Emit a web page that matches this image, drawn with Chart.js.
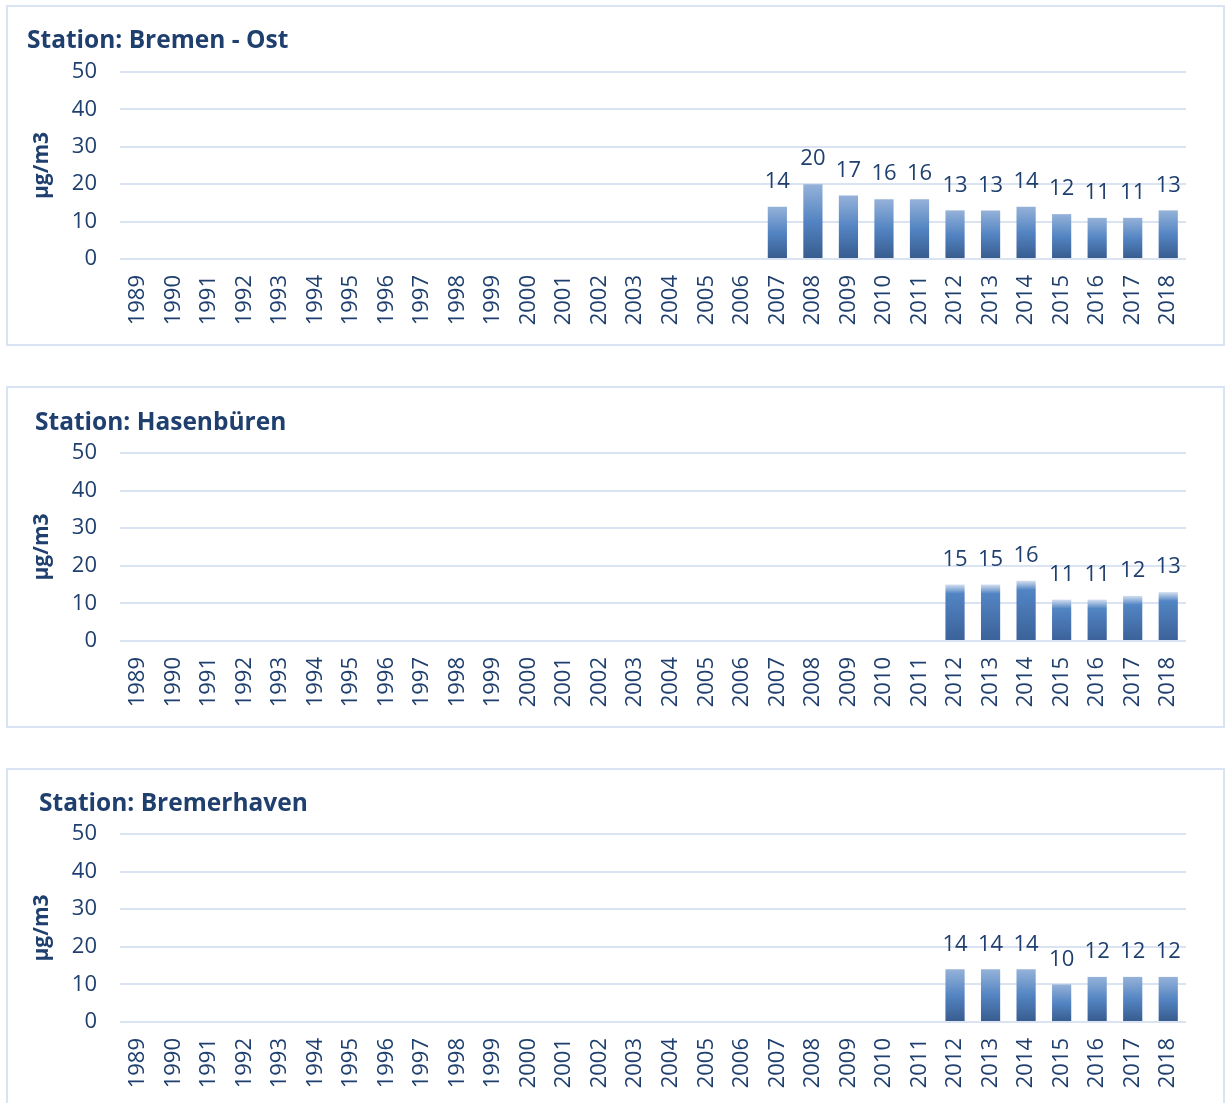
<!DOCTYPE html>
<html>
<head>
<meta charset="utf-8">
<script src="https://cdn.jsdelivr.net/npm/chart.js@4/dist/chart.umd.min.js"></script>
<style>
  html, body { margin: 0; padding: 0; background: #ffffff; }
  body { width: 1225px; height: 1103px; position: relative; overflow: hidden; }
  .panel { position: absolute; box-sizing: border-box; border: 2px solid #DAE3F3; background: #fff; }
  canvas { position: absolute; left: 0; }
</style>
</head>
<body>
<div class="panel" style="left:6px;top:5px;width:1219px;height:341px;"></div>
<div class="panel" style="left:6px;top:386px;width:1219px;height:342px;"></div>
<div class="panel" style="left:6px;top:768px;width:1219px;height:345px;"></div>
<canvas id="c1" width="1225" height="345" style="top:0px"></canvas>
<canvas id="c2" width="1225" height="341" style="top:387px"></canvas>
<canvas id="c3" width="1225" height="334" style="top:769px"></canvas>
<script>
// ---- data ----
const years = ["1989","1990","1991","1992","1993","1994","1995","1996","1997","1998","1999","2000","2001","2002","2003","2004","2005","2006","2007","2008","2009","2010","2011","2012","2013","2014","2015","2016","2017","2018"];
const bremenOst   = [null,null,null,null,null,null,null,null,null,null,null,null,null,null,null,null,null,null,14,20,17,16,16,13,13,14,12,11,11,13];
const hasenbueren = [null,null,null,null,null,null,null,null,null,null,null,null,null,null,null,null,null,null,null,null,null,null,null,15,15,16,11,11,12,13];
const bremerhaven = [null,null,null,null,null,null,null,null,null,null,null,null,null,null,null,null,null,null,null,null,null,null,null,14,14,14,10,12,12,12];
const yTicks = [0,10,20,30,40,50];
const titles = ["Station: Bremen - Ost", "Station: Hasenbüren", "Station: Bremerhaven"];
const unitLabel = "µg/m3";

// ---- styling ----
const TXT = "#1F3F6E";
const GRID = "#D9E3F2";
Chart.defaults.font.family = "'Open Sans', sans-serif";
Chart.defaults.color = TXT;

const valueLabels = {
  id: 'valueLabels',
  afterDatasetsDraw(chart) {
    const ctx = chart.ctx;
    ctx.save();
    ctx.font = "22px 'Open Sans', sans-serif";
    ctx.fillStyle = TXT;
    ctx.textAlign = 'center';
    ctx.textBaseline = 'middle';
    chart.data.datasets.forEach((ds, di) => {
      const meta = chart.getDatasetMeta(di);
      meta.data.forEach((el, i) => {
        const v = ds.data[i];
        if (v === null || v === undefined) return;
        ctx.fillText(String(v), el.x, el.y - 25);
      });
    });
    ctx.restore();
  }
};

function makeGradient(style) {
  return function (c) {
    const chart = c.chart;
    if (!chart.chartArea || c.raw === null || c.raw === undefined) return '#4F81BD';
    const ys = chart.scales.y;
    const top = ys.getPixelForValue(c.raw);
    const bot = ys.getPixelForValue(0);
    const g = chart.ctx.createLinearGradient(0, top, 0, bot);
    if (style === 'band') {
      const h = Math.max(1, bot - top);
      g.addColorStop(0, '#D3DEEF');
      g.addColorStop(Math.min(1, 9 / h), '#5285C4');
      g.addColorStop(1, '#3B6198');
    } else {
      g.addColorStop(0, '#95B2D9');
      g.addColorStop(0.5, '#5384C2');
      g.addColorStop(1, '#375B8D');
    }
    return g;
  };
}

function makeChart(id, values, title, p) {
  new Chart(document.getElementById(id), {
    type: 'bar',
    data: {
      labels: years,
      datasets: [{
        data: values,
        backgroundColor: makeGradient(p.style),
        borderWidth: 0,
        barPercentage: 0.54,
        categoryPercentage: 1.0
      }]
    },
    options: {
      responsive: false,
      animation: false,
      events: [],
      layout: { padding: { left: p.titleX, right: 39, top: 0, bottom: 0 } },
      plugins: {
        legend: { display: false },
        tooltip: { enabled: false },
        title: {
          display: true,
          text: title,
          align: 'start',
          color: TXT,
          font: { size: 24.5, weight: 'bold', lineHeight: 1.2 },
          padding: { top: p.titleY - 14.7, bottom: p.areaTop - (p.titleY - 14.7) - 29.4 }
        }
      },
      scales: {
        x: {
          grid: { display: false, drawTicks: false },
          border: { display: false },
          ticks: {
            autoSkip: false,
            minRotation: 90,
            maxRotation: 90,
            padding: 16,
            color: TXT,
            font: { size: 22 }
          },
          afterFit(s) { s.height = p.canvasH - p.areaBottom; }
        },
        y: {
          min: 0,
          max: 50,
          afterBuildTicks(s) { s.ticks = yTicks.map(v => ({ value: v })); },
          grid: { color: GRID, lineWidth: 2, drawTicks: false },
          border: { display: false },
          ticks: { padding: 23, color: TXT, font: { size: 22 } },
          title: {
            display: true,
            text: unitLabel,
            color: TXT,
            font: { size: 21, weight: 'bold', lineHeight: 1.2 },
            padding: { top: 42 - p.titleX - 12.6, bottom: 0 }
          },
          afterFit(s) { s.width = 120 - p.titleX; }
        }
      }
    },
    plugins: [valueLabels]
  });
}

makeChart('c1', bremenOst,   titles[0], { titleX: 27, titleY: 41.5, areaTop: 72, areaBottom: 259, canvasH: 345, style: 'full' });
makeChart('c2', hasenbueren, titles[1], { titleX: 35, titleY: 36.5, areaTop: 66, areaBottom: 254, canvasH: 341, style: 'band' });
makeChart('c3', bremerhaven, titles[2], { titleX: 39, titleY: 35.5, areaTop: 65, areaBottom: 253, canvasH: 334, style: 'full' });
</script>
</body>
</html>
